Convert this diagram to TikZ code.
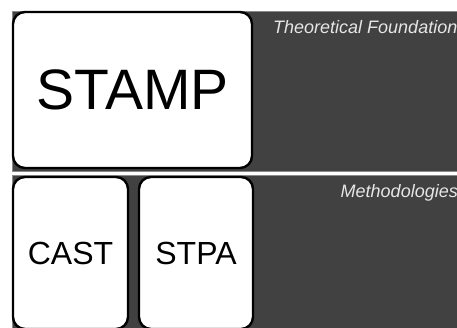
\documentclass[tikz,border=0pt]{standalone}
\usepackage{fontspec}
\setmainfont{Liberation Sans}
\definecolor{bandgray}{HTML}{414141}
\definecolor{bandedge}{HTML}{8A8A8A}
\definecolor{labelgray}{HTML}{E6E6E6}
\tikzset{
  band/.style={fill=bandgray, draw=bandedge, line width=0.8pt},
  box/.style={draw=black, fill=white, line width=2.4pt, rounded corners=12pt, inner sep=0pt},
  bandlabel/.style={text=labelgray, font=\fontsize{18}{20}\selectfont\itshape, inner sep=0pt}
}
\begin{document}
\begin{tikzpicture}[x=1pt,y=-1pt]
\useasboundingbox (0,0) rectangle (457,327);
\clip (0,0) rectangle (457,327);
\fill[white] (0,0) rectangle (457,327);
\draw[band] (12,11) rectangle (470,171);
\draw[band] (12,175) rectangle (470,340);
\node[box, minimum width=239pt, minimum height=156pt, font=\fontsize{57}{60}\selectfont] (stamp) at (132.5,90) {STAMP};
\node[box, minimum width=115pt, minimum height=152pt, font=\fontsize{32}{36}\selectfont] (cast) at (70.5,253) {CAST};
\node[box, minimum width=114pt, minimum height=152pt, font=\fontsize{32}{36}\selectfont] (stpa) at (196,253) {STPA};
\node[bandlabel, anchor=base west] (theory) at (273,33) {Theoretical Foundation};
\node[bandlabel, anchor=base east] (methods) at (458,197.5) {Methodologies};
\end{tikzpicture}
\end{document}
